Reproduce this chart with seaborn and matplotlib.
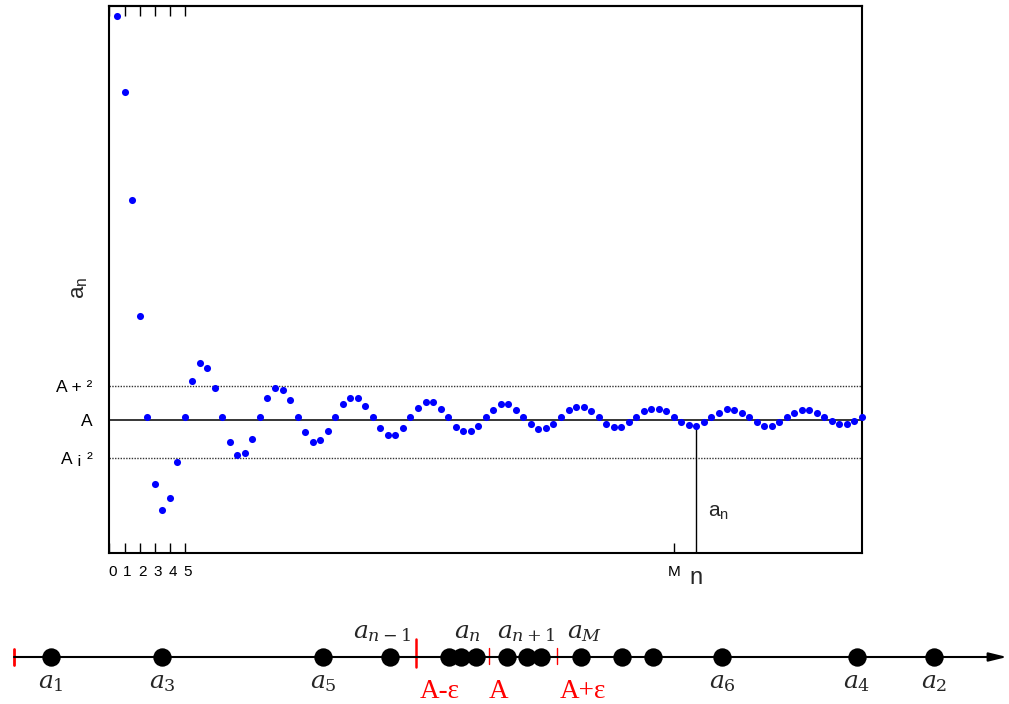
import matplotlib
matplotlib.use('Agg')
import matplotlib.pyplot as plt
import matplotlib.transforms as mtransforms
import seaborn as sns

# a_n values (A = 0), one per plotted index
a_vals = [11.22, 9.11, 6.11, 2.89, 0.08, -1.78, -2.5, -2.17, -1.17, 0.09,
          1.08, 1.58, 1.46, 0.89, 0.09, -0.6, -0.98, -0.9, -0.52, 0.09,
          0.62, 0.89, 0.85, 0.55, 0.09, -0.33, -0.6, -0.56, -0.3, 0.09,
          0.44, 0.62, 0.62, 0.39, 0.09, -0.22, -0.42, -0.42, -0.22, 0.09,
          0.35, 0.51, 0.51, 0.31, 0.09, -0.19, -0.3, -0.3, -0.15, 0.09,
          0.28, 0.44, 0.44, 0.28, 0.1, -0.1, -0.26, -0.22, -0.1, 0.09,
          0.27, 0.37, 0.37, 0.24, 0.09, -0.1, -0.19, -0.19, -0.06, 0.09,
          0.24, 0.31, 0.31, 0.24, 0.09, -0.06, -0.14, -0.15, -0.06, 0.09,
          0.2, 0.31, 0.27, 0.2, 0.09, -0.06, -0.15, -0.15, -0.06, 0.09,
          0.2, 0.29, 0.29, 0.2, 0.09, -0.03, -0.1, -0.1, -0.03, 0.09]
idx = list(range(len(a_vals)))

# horizontal reference levels
band_vals = [0.95, 0.0, -1.04]
band_labels = ['A + ²', 'A', 'A ¡ ²']

# x ticks
tick_pos = [-1, 1, 3, 5, 7, 9, 74]
tick_labels = ['0', '1', '2', '3', '4', '5', 'M']
n_pos = 77

# number line below the chart
nl_dots = [51, 162, 323, 390, 449, 461, 476, 507, 527, 541, 581, 622, 653, 722, 857, 934]
nl_below = [51, 162, 323, 722, 857, 934]
nl_below_txt = ['$a_1$', '$a_3$', '$a_5$', '$a_6$', '$a_4$', '$a_2$']
nl_above = [382, 467, 526, 585]
nl_above_txt = ['$a_{n-1}$', '$a_n$', '$a_{n+1}$', '$a_M$']
nl_marks = [416, 489, 557]
nl_mark_txt_pos = [440, 499, 583]
nl_mark_txt = ['A-ε', 'A', 'A+ε']

sns.set_theme(style='white')
plt.rcParams['font.family'] = ['Liberation Sans', 'DejaVu Sans']

fig = plt.figure(figsize=(10.09, 7.04), dpi=100)
ax = fig.add_axes([109.3 / 1009, 151 / 704, 752.7 / 1009, 547 / 704])

for v in band_vals:
    if v == 0:
        ax.axhline(v, color='black', lw=1.1, zorder=1)
    else:
        ax.axhline(v, color='#333333', lw=1, ls=(0, (1, 1)), zorder=1)

sns.scatterplot(x=idx, y=a_vals, ax=ax, color='#0000ff', s=26, linewidth=0,
                zorder=3, clip_on=False)

ax.set_xlim(-1.02, 99)
ax.set_ylim(-3.69, 11.5)
ax.plot([n_pos, n_pos], [a_vals[n_pos], -3.69], color='black', lw=1, zorder=2)

for s in ax.spines.values():
    s.set_color('black')
    s.set_linewidth(1.5)

ax.set_xticks(tick_pos, tick_labels)
ax.tick_params(axis='x', direction='in', length=7, width=1, colors='black',
               labelsize=11, pad=9, bottom=True)
shift = mtransforms.ScaledTranslation(3 / 100, 0, fig.dpi_scale_trans)
for lab in ax.get_xticklabels()[:6]:
    lab.set_transform(lab.get_transform() + shift)

top = ax.secondary_xaxis('top')
top.set_xticks(tick_pos[:6], [''] * 6)
top.tick_params(direction='in', length=7, width=1, colors='black')
top.spines['top'].set_linewidth(1.5)

ax.set_yticks(band_vals, band_labels)
ax.tick_params(axis='y', length=0, pad=12, labelsize=12.5, labelcolor='black')
ax.set_ylabel('')
ax.set_xlabel('')

ax.text(-0.039, 0.484, r'a$_\mathregular{n}$', transform=ax.transAxes, rotation=90,
        ha='center', va='center', fontsize=16)
ax.text(78.6, -2.56, r'a$_\mathregular{n}$', ha='left', va='center', fontsize=15)
ax.text(n_pos, -0.046, 'n', transform=ax.get_xaxis_transform(), ha='center',
        va='center', fontsize=17)

# number line
nl = fig.add_axes([0, 0, 1, 100 / 704])
nl.set_xlim(0, 1009)
nl.set_ylim(-47, 53)
nl.axis('off')
nl.annotate('', xy=(1007, 0), xytext=(14, 0),
            arrowprops=dict(arrowstyle='-|>,head_length=0.9,head_width=0.22',
                            color='black', lw=1.5, shrinkA=0, shrinkB=0))
nl.plot([14, 14], [-8, 8], color='red', lw=2)
nl.plot([nl_marks[0]] * 2, [-10, 18], color='red', lw=1.8)
for m in nl_marks[1:]:
    nl.plot([m, m], [-7, 9], color='red', lw=1)
sns.scatterplot(x=nl_dots, y=[0] * len(nl_dots), ax=nl, color='black', s=175,
                linewidth=0, zorder=4, clip_on=False)
for x, t in zip(nl_below, nl_below_txt):
    nl.text(x, -31, t, ha='center', va='baseline', fontsize=18,
            math_fontfamily='dejavuserif')
for x, t in zip(nl_above, nl_above_txt):
    nl.text(x, 19, t, ha='center', va='baseline', fontsize=18,
            math_fontfamily='dejavuserif')
for x, t in zip(nl_mark_txt_pos, nl_mark_txt):
    nl.text(x, -41, t, ha='center', va='baseline', fontsize=19.5, color='red',
            family=['Liberation Serif', 'DejaVu Serif'])

fig.savefig('out.png', dpi=100)
